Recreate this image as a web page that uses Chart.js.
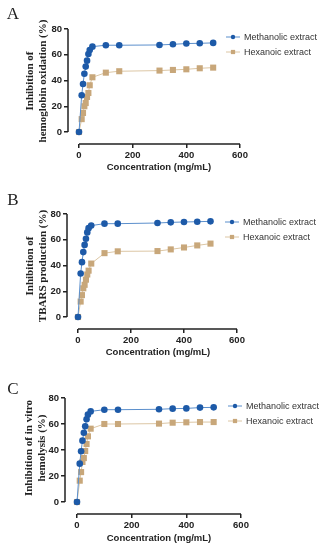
<!DOCTYPE html>
<html>
<head>
<meta charset="utf-8">
<script src="https://cdn.jsdelivr.net/npm/chart.js@4"></script>
<style>
    html, body { margin: 0; padding: 0; background: #ffffff; }
    body { width: 333px; height: 550px; position: relative; overflow: hidden; }
    .panel { position: absolute; left: 0; width: 333px; }
</style>
</head>
<body>
<div class="panel" style="top:0;height:183px"><canvas id="chartA"></canvas></div>
<div class="panel" style="top:183px;height:182px"><canvas id="chartB"></canvas></div>
<div class="panel" style="top:365px;height:185px"><canvas id="chartC"></canvas></div>
<script>
const concentrations = [0, 10, 15, 20, 25, 30, 35, 40, 50, 100, 150, 300, 350, 400, 450, 500];
const xTicks = [0, 200, 400, 600];
const yTicks = [0, 20, 40, 60, 80];
const seriesNames = ['Methanolic extract', 'Hexanoic extract'];

// panel A - hemoglobin oxidation
const methanolicA = [0, 28.5, 37.3, 45.3, 50.8, 55.4, 60.6, 63.7, 66.3, 67.4, 67.4, 67.6, 68.1, 68.7, 68.9, 69.2];
const hexanoicA = [0, 10, 14.8, 20, 22.5, 27.2, 30.3, 36.3, 42.5, 46.1, 47.2, 47.7, 48.2, 48.7, 49.5, 50];

// panel B - TBARS production
const methanolicB = [0, 33.8, 42.6, 50.4, 56, 60.8, 65.7, 69, 71, 72.5, 72.5, 73, 73.5, 73.8, 74, 74.3];
const hexanoicB = [0, 12, 17, 22.3, 25, 29, 33, 36, 41.5, 49.6, 51, 51.2, 52.5, 54, 55.6, 57];

// panel C - in vitro hemolysis
const methanolicC = [0, 29.5, 39, 47.2, 53.3, 58.2, 63.6, 67.2, 69.7, 71, 71, 71.3, 71.8, 72, 72.6, 72.8];
const hexanoicC = [0, 16.4, 23, 30.8, 33.8, 39.2, 44.6, 50.5, 56.4, 60, 60, 60.3, 61, 61.3, 61.5, 61.5];

const BLUE = '#1d5aa8';
const BLUE_LINE = '#5b8fcc';
const TAN = '#c8a77a';
const TAN_LINE = '#dcc6a4';
const INK = '#222222';

function makePoints(ys) {
    return concentrations.map((x, i) => ({ x: x, y: ys[i] }));
}

// extra drawing: axis lines, axis titles, panel letter, legend
const decorations = {
    id: 'decorations',
    afterDraw(chart, args, opts) {
        const ctx = chart.ctx;
        const xs = chart.scales.x;
        const ys = chart.scales.y;
        const area = chart.chartArea;
        ctx.save();

        // axis lines, offset from the data origin
        ctx.strokeStyle = INK;
        ctx.lineWidth = 1.5;
        ctx.beginPath();
        ctx.moveTo(area.left, ys.getPixelForValue(0));
        ctx.lineTo(area.left, ys.getPixelForValue(80));
        ctx.moveTo(xs.getPixelForValue(0), area.bottom);
        ctx.lineTo(xs.getPixelForValue(600), area.bottom);
        ctx.stroke();

        // panel letter
        ctx.fillStyle = INK;
        ctx.font = '17px "Liberation Serif"';
        ctx.textAlign = 'center';
        ctx.textBaseline = 'middle';
        ctx.fillText(opts.letter, opts.letterX, opts.letterY);

        // x title
        ctx.font = 'bold 9.5px "Liberation Sans"';
        ctx.fillText('Concentration (mg/mL)', opts.xTitleX, opts.xTitleY);

        // y title, two rotated lines
        ctx.save();
        ctx.translate(opts.yTitleX, opts.yTitleY);
        ctx.rotate(-Math.PI / 2);
        ctx.font = 'bold 11px "Liberation Serif"';
        ctx.fillText(opts.yTitle1, 0, -6.5);
        ctx.fillText(opts.yTitle2, 0, 6.5);
        ctx.restore();

        // legend
        const items = [
            { color: BLUE, line: BLUE_LINE, style: 'circle', r: 2.2 },
            { color: TAN, line: TAN_LINE, style: 'rect', r: 3 }
        ];
        ctx.font = '9px "Liberation Sans"';
        ctx.textAlign = 'left';
        items.forEach((it, i) => {
            const y = opts.legendY + i * 15;
            ctx.strokeStyle = it.line;
            ctx.lineWidth = 1;
            ctx.beginPath();
            ctx.moveTo(opts.legendX, y);
            ctx.lineTo(opts.legendX + 14, y);
            ctx.stroke();
            ctx.fillStyle = it.color;
            Chart.helpers.drawPoint(ctx, { pointStyle: it.style, radius: it.r, borderWidth: 0 }, opts.legendX + 7, y);
            ctx.fillStyle = '#333333';
            ctx.fillText(seriesNames[i], opts.legendX + 18, y + 0.5);
        });

        ctx.restore();
    }
};

function buildPanel(canvasId, height, geo, methanolic, hexanoic, text) {
    const ctxEl = document.getElementById(canvasId);
    const xMin = -(geo.zeroX - geo.left) / (geo.right - geo.zeroX) * 600;
    const yMin = -(geo.bottom - geo.zeroY) / (geo.zeroY - geo.top) * 80;

    new Chart(ctxEl, {
        type: 'line',
        data: {
            datasets: [
                {
                    label: seriesNames[0],
                    data: makePoints(methanolic),
                    borderColor: BLUE_LINE,
                    backgroundColor: BLUE,
                    borderWidth: 1,
                    pointStyle: 'circle',
                    pointRadius: 3.3,
                    pointBorderWidth: 0,
                    pointBackgroundColor: BLUE,
                    tension: 0
                },
                {
                    label: seriesNames[1],
                    data: makePoints(hexanoic),
                    borderColor: TAN_LINE,
                    backgroundColor: TAN,
                    borderWidth: 1,
                    pointStyle: 'rect',
                    pointRadius: 4.3,
                    pointBorderWidth: 0,
                    pointBackgroundColor: TAN,
                    tension: 0,
                    order: 1
                }
            ]
        },
        options: {
            responsive: false,
            animation: false,
            devicePixelRatio: 1,
            layout: {
                padding: { left: 0, top: geo.top, right: 333 - geo.right, bottom: 0 }
            },
            plugins: {
                legend: { display: false },
                tooltip: { enabled: false },
                decorations: text
            },
            scales: {
                x: {
                    type: 'linear',
                    min: xMin,
                    max: 600,
                    afterBuildTicks: s => { s.ticks = xTicks.map(v => ({ value: v })); },
                    afterFit: s => { s.height = height - geo.bottom; },
                    grid: { drawOnChartArea: false, drawTicks: true, tickLength: 4, color: INK, lineWidth: 1.5 },
                    border: { display: false },
                    ticks: { color: INK, font: { family: 'Liberation Sans', size: 9.5, weight: 'bold' }, padding: 2, maxRotation: 0 }
                },
                y: {
                    type: 'linear',
                    min: yMin,
                    max: 80,
                    afterBuildTicks: s => { s.ticks = yTicks.map(v => ({ value: v })); },
                    afterFit: s => { s.width = geo.left; },
                    grid: { drawOnChartArea: false, drawTicks: true, tickLength: 4, color: INK, lineWidth: 1.5 },
                    border: { display: false },
                    ticks: { color: INK, font: { family: 'Liberation Sans', size: 9.5, weight: 'bold' }, padding: 2 }
                }
            }
        },
        plugins: [decorations]
    });
}

function sizeCanvas(id, h) {
    const c = document.getElementById(id);
    c.width = 333;
    c.height = h;
    c.style.width = '333px';
    c.style.height = h + 'px';
}

sizeCanvas('chartA', 183);
sizeCanvas('chartB', 182);
sizeCanvas('chartC', 185);

buildPanel('chartA', 183,
    { left: 68, zeroX: 79, right: 240, top: 29, zeroY: 132, bottom: 144 },
    methanolicA, hexanoicA,
    { letter: 'A', letterX: 13, letterY: 15, xTitleX: 159, xTitleY: 167,
      yTitle1: 'Inhibition of', yTitle2: 'hemoglobin oxidation (%)', yTitleX: 36.5, yTitleY: 81,
      legendX: 226, legendY: 37 });

buildPanel('chartB', 182,
    { left: 67, zeroX: 78, right: 237, top: 31, zeroY: 134, bottom: 146 },
    methanolicB, hexanoicB,
    { letter: 'B', letterX: 13, letterY: 18, xTitleX: 158, xTitleY: 169,
      yTitle1: 'Inhibition of', yTitle2: 'TBARS production (%)', yTitleX: 36.5, yTitleY: 83,
      legendX: 225, legendY: 39 });

buildPanel('chartC', 185,
    { left: 65, zeroX: 77, right: 241, top: 33, zeroY: 137, bottom: 149 },
    methanolicC, hexanoicC,
    { letter: 'C', letterX: 13, letterY: 25, xTitleX: 159, xTitleY: 173,
      yTitle1: 'Inhibition of in vitro', yTitle2: 'hemolysis (%)', yTitleX: 35.5, yTitleY: 83,
      legendX: 228, legendY: 41 });
</script>
</body>
</html>
